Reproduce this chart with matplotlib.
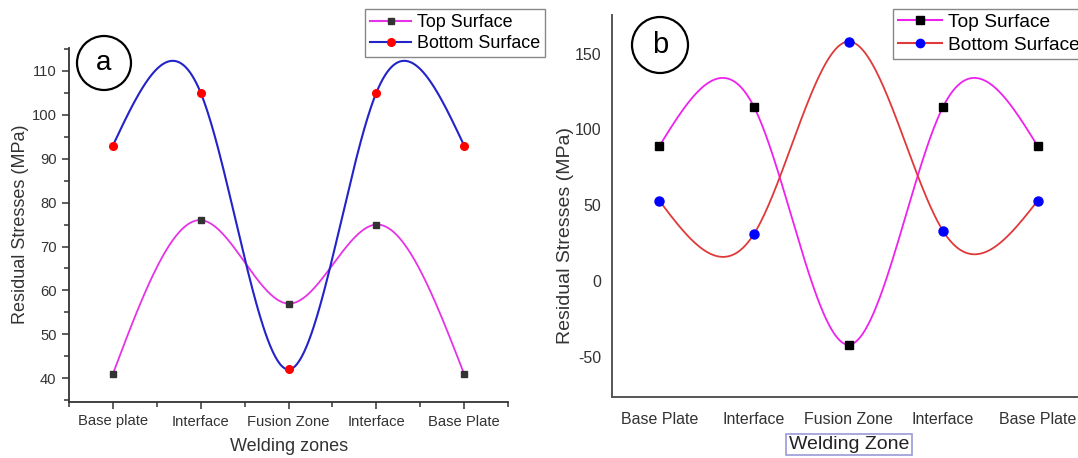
import numpy as np
import matplotlib
matplotlib.use("Agg")
import matplotlib.pyplot as plt
from matplotlib.patches import Ellipse
from matplotlib.ticker import MultipleLocator, FixedLocator

plt.rcParams['font.family'] = ['Liberation Sans', 'DejaVu Sans']
plt.rcParams['axes.unicode_minus'] = False

# ---- data ----
zones_a = ["Base plate", "Interface", "Fusion Zone", "Interface", "Base Plate"]
top_a = [41, 76, 57, 75, 41]
bottom_a = [93, 105, 42, 105, 93]

zones_b = ["Base Plate", "Interface", "Fusion Zone", "Interface", "Base Plate"]
top_b = [89, 115, -42, 115, 89]
bottom_b = [53, 31, 158, 33, 53]


def natural_spline(y, n=300):
    y = np.asarray(y, float)
    m = len(y)
    A = np.zeros((m, m))
    r = np.zeros(m)
    A[0, 0] = A[-1, -1] = 1
    for i in range(1, m - 1):
        A[i, i - 1] = 1
        A[i, i] = 4
        A[i, i + 1] = 1
        r[i] = 6 * (y[i - 1] - 2 * y[i] + y[i + 1])
    M = np.linalg.solve(A, r)
    xs = np.linspace(0, m - 1, n)
    idx = np.clip(np.floor(xs).astype(int), 0, m - 2)
    t = xs - idx
    a = 1 - t
    ys = a * y[idx] + t * y[idx + 1] + ((a ** 3 - a) * M[idx] + (t ** 3 - t) * M[idx + 1]) / 6
    return xs, ys


W, H = 1078, 458
fig = plt.figure(figsize=(W / 100, H / 100), dpi=100)


def px_axes(l, r, t, b):
    return fig.add_axes([l / W, 1 - b / H, (r - l) / W, (b - t) / H])


# ---------------- panel a ----------------
L, R, T, B = 69, 508, 48, 402
ax = px_axes(L, R, T, B)
x = np.arange(len(zones_a))
xs, ys = natural_spline(top_a)
ax.plot(xs, ys, color='#e733e7', lw=1.3)
xs, ys = natural_spline(bottom_a)
ax.plot(xs, ys, color='#2323c8', lw=1.5)
ax.plot(x, top_a, 's', color='#333333', ms=5)
ax.plot(x, bottom_a, 'o', color='#ff0000', ms=5.5)
ax.set_xlim(-0.5, 4.5)
ax.set_xticks(x)
ax.set_xticklabels(zones_a)
ax.xaxis.set_minor_locator(FixedLocator([-0.5, 0.5, 1.5, 2.5, 3.5, 4.5]))
ax.yaxis.set_major_locator(MultipleLocator(10))
ax.yaxis.set_minor_locator(MultipleLocator(5))
ax.set_ylim(34.6, 115.2)
for s in ['top', 'right']:
    ax.spines[s].set_visible(False)
for s in ['left', 'bottom']:
    ax.spines[s].set_color('#333333')
    ax.spines[s].set_linewidth(1.3)
ax.tick_params(which='both', direction='out', color='#333333', width=1.1,
               labelsize=10.6, labelcolor='#333333')
ax.tick_params(which='major', length=5, pad=4)
ax.tick_params(which='minor', length=3.5)
ax.set_xlabel("Welding zones", fontsize=13, color='#333333')
ax.xaxis.set_label_coords((289.5 - L) / (R - L), (B - 438) / (B - T))
ax.set_ylabel("Residual Stresses (MPa)", fontsize=13, color='#333333')
ax.yaxis.set_label_coords((29 - L) / (R - L), (B - 224) / (B - T))
h1, = ax.plot([], [], '-s', color='#e733e7', mfc='#333333', mec='#333333', ms=5)
h2, = ax.plot([], [], '-o', color='#2323c8', mfc='#ff0000', mec='#ff0000', ms=5.5)
ax.legend([h1, h2], ["Top Surface", "Bottom Surface"], loc='upper left',
          bbox_to_anchor=(365 / W, 1 - 9 / H), bbox_transform=fig.transFigure,
          fancybox=False, edgecolor='#888888', fontsize=12.9, handlelength=2.3,
          borderpad=0.28, labelspacing=0.22, handletextpad=0.3, borderaxespad=0,
          framealpha=1)

# circle "a"
fig.add_artist(Ellipse((104 / W, 1 - 63 / H), 54 / W, 54 / H, transform=fig.transFigure,
                       fill=False, edgecolor='black', lw=1.6))
fig.text(104 / W, 1 - 63 / H, "a", fontsize=20, ha='center', va='center')

# ---------------- panel b ----------------
L2, R2, T2, B2 = 612, 1085, 15, 397
bx = px_axes(L2, R2, T2, B2)
x = np.arange(len(zones_b))
xs, ys = natural_spline(top_b)
bx.plot(xs, ys, color='#ee22ee', lw=1.3)
xs, ys = natural_spline(bottom_b)
bx.plot(xs, ys, color='#e0393a', lw=1.3)
bx.plot(x, top_b, 's', color='black', ms=6)
bx.plot(x, bottom_b, 'o', color='#0000ff', ms=6.5)
bx.set_xlim(-0.5, 4.5)
bx.set_ylim(-76.5, 175.5)
bx.set_xticks(x)
bx.set_xticklabels(zones_b)
bx.set_yticks([-50, 0, 50, 100, 150])
for s in ['top', 'right']:
    bx.spines[s].set_visible(False)
for s in ['left', 'bottom']:
    bx.spines[s].set_color('#555555')
    bx.spines[s].set_linewidth(1.4)
bx.tick_params(length=0, labelsize=11.5, labelcolor='#333333')
bx.tick_params(axis='x', pad=11)
bx.tick_params(axis='y', pad=8)
bx.set_xlabel("Welding Zone", fontsize=14, color='#222222',
              bbox=dict(boxstyle='square,pad=0.12', fc='white', ec='#9a9ad8', lw=1.2))
bx.xaxis.set_label_coords((849 - L2) / (R2 - L2), (B2 - 436) / (B2 - T2))
bx.set_ylabel("Residual Stresses (MPa)", fontsize=14, color='#333333')
bx.yaxis.set_label_coords((574 - L2) / (R2 - L2), (B2 - 236) / (B2 - T2))
g1, = bx.plot([], [], '-s', color='#ee22ee', mfc='black', mec='black', ms=6)
g2, = bx.plot([], [], '-o', color='#e0393a', mfc='#0000ff', mec='#0000ff', ms=6)
bx.legend([g1, g2], ["Top Surface", "Bottom Surface"], loc='upper left',
          bbox_to_anchor=(893 / W, 1 - 9 / H), bbox_transform=fig.transFigure,
          fancybox=False, edgecolor='#888888', fontsize=13.8, handlelength=2.3,
          borderpad=0.25, labelspacing=0.28, handletextpad=0.3, borderaxespad=0,
          framealpha=1)

fig.add_artist(Ellipse((660 / W, 1 - 45 / H), 56 / W, 56 / H, transform=fig.transFigure,
                       fill=False, edgecolor='black', lw=1.6))
fig.text(660 / W, 1 - 45 / H, "b", fontsize=21, ha='center', va='center')

fig.savefig("out.png", dpi=100)
